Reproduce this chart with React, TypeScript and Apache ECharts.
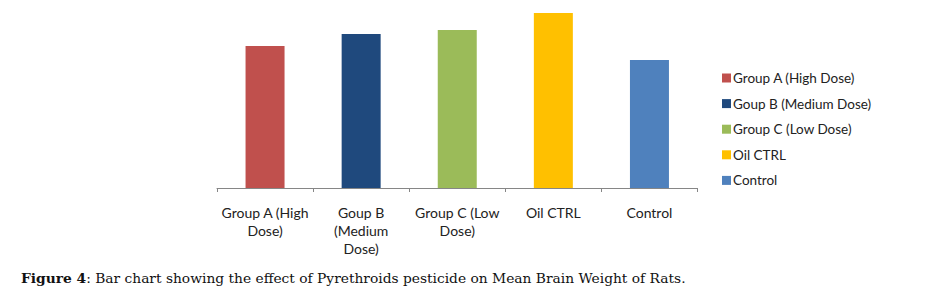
import React, { useEffect, useRef } from "react";
import * as echarts from "echarts";

const categories = [
  "Group A (High\nDose)",
  "Goup B\n(Medium\nDose)",
  "Group C (Low\nDose)",
  "Oil CTRL",
  "Control",
];
const seriesNames = [
  "Group A (High Dose)",
  "Goup B (Medium Dose)",
  "Group C (Low Dose)",
  "Oil CTRL",
  "Control",
];
const meanBrainWeight = [1.42, 1.54, 1.58, 1.75, 1.28];
const colors = ["#C0504D", "#1F497D", "#9BBB59", "#FFC000", "#4F81BD"];
const yMax = 1.78;

export default function App() {
  const ref = useRef<HTMLDivElement>(null);
  useEffect(() => {
    if (!ref.current) return;
    const chart = echarts.init(ref.current, undefined, { renderer: "svg" });
    const series = seriesNames.map((name, i) => ({
      name,
      type: "bar",
      stack: "all",
      barWidth: 39,
      itemStyle: { color: colors[i] },
      data: meanBrainWeight.map((v, j) => (j === i ? v : null)),
    }));
    chart.setOption({
      animation: false,
      grid: { left: 217, width: 480.5, top: 10, bottom: 115, containLabel: false },
      xAxis: {
        type: "category",
        data: categories,
        axisLine: { lineStyle: { color: "#868686", width: 1 } },
        axisTick: { show: true, length: 4, lineStyle: { color: "#868686" } },
        axisLabel: {
          interval: 0,
          margin: 15,
          color: "#222",
          fontFamily: "Lato",
          fontSize: 14,
          lineHeight: 18,
        },
      },
      yAxis: {
        type: "value",
        min: 0,
        max: yMax,
        show: false,
        splitLine: { show: false },
      },
      legend: {
        orient: "vertical",
        left: 722,
        top: 71,
        padding: 0,
        itemWidth: 9,
        itemHeight: 9,
        itemGap: 11.6,
        icon: "rect",
        data: seriesNames,
        textStyle: {
          color: "#222",
          fontFamily: "Lato",
          fontSize: 13.5,
          lineHeight: 14,
          padding: [0, 0, 0, -3],
        },
      },
      graphic: [
        {
          type: "text",
          left: 21,
          top: 271,
          style: {
            text: "{b|Figure 4}: Bar chart showing the effect of Pyrethroids pesticide on Mean Brain Weight of Rats.",
            fontFamily: "DejaVu Serif",
            fontSize: 13.8,
            fill: "#111",
            rich: {
              b: { fontFamily: "DejaVu Serif", fontSize: 13.8, fontWeight: "bold", fill: "#111" },
            },
          },
        },
      ],
      series,
    });
    return () => chart.dispose();
  }, []);
  return (
    <div
      ref={ref}
      style={{ position: "fixed", left: 0, top: 0, width: 927, height: 303, background: "#fff" }}
    />
  );
}
